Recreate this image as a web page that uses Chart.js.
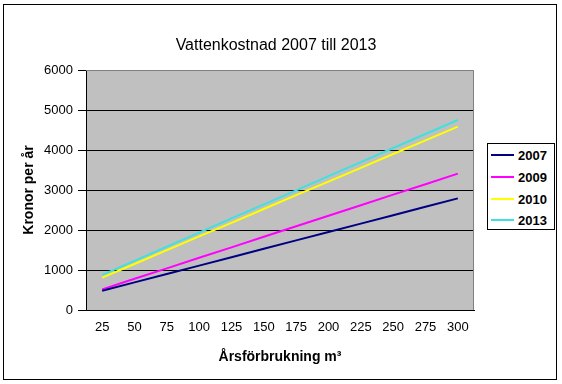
<!DOCTYPE html>
<html>
<head>
<meta charset="utf-8">
<script src="https://cdn.jsdelivr.net/npm/chart.js@4/dist/chart.umd.min.js"></script>
<style>
  html, body { margin: 0; padding: 0; background: #fff; }
  #wrap { position: relative; width: 562px; height: 384px; }
  canvas { position: absolute; left: 0; top: 0; }
  #legend {
    position: absolute; left: 487px; top: 143px; width: 68px; height: 87px;
    border: 1px solid #000; box-sizing: border-box; background: #fff;
    font-family: "Liberation Sans", Arial, sans-serif; font-weight: bold; font-size: 13px;
  }
  .item { position: absolute; left: 2px; height: 15px; line-height: 15px; }
  .sw { position: absolute; left: 1px; top: 6px; width: 23px; height: 2px; }
  .lt { position: absolute; left: 28px; top: 0; color: #000; }
</style>
</head>
<body>
<div id="wrap">
  <canvas id="c" width="562" height="384"></canvas>
  <div id="legend"></div>
</div>
<script>
const categories = ["25","50","75","100","125","150","175","200","225","250","275","300"];
const seriesNames = ["2007","2009","2010","2013"];
const values2007 = [480, 690, 900, 1110, 1320, 1530, 1740, 1950, 2160, 2370, 2580, 2790];
const values2009 = [515, 780, 1040, 1305, 1565, 1830, 2095, 2355, 2620, 2885, 3145, 3410];
const values2010 = [810, 1150, 1495, 1840, 2180, 2525, 2870, 3210, 3555, 3900, 4240, 4585];
const values2013 = [880, 1230, 1585, 1935, 2290, 2640, 2990, 3345, 3695, 4050, 4400, 4750];
const yTicks = [0, 1000, 2000, 3000, 4000, 5000, 6000];
const colors = ["#000080", "#FF00FF", "#FFFF00", "#40E0E0"];

const FONT = '"Liberation Sans", Arial, sans-serif';

const bgPlugin = {
  id: 'bg',
  beforeDraw(chart) {
    const ctx = chart.ctx;
    const a = chart.chartArea;
    ctx.save();
    ctx.fillStyle = '#fff';
    ctx.fillRect(0, 0, chart.width, chart.height);
    ctx.strokeStyle = '#000';
    ctx.lineWidth = 1;
    ctx.strokeRect(3.5, 4.5, 553, 375);
    ctx.fillStyle = '#C0C0C0';
    ctx.fillRect(a.left, a.top, a.right - a.left, a.bottom - a.top);
    ctx.restore();
  },
  afterDatasetsDraw(chart) {
    const ctx = chart.ctx;
    const a = chart.chartArea;
    ctx.save();
    ctx.strokeStyle = '#808080';
    ctx.lineWidth = 1;
    ctx.beginPath();
    ctx.moveTo(a.left, Math.round(a.top) + 0.5);
    ctx.lineTo(Math.round(a.right) - 0.5, Math.round(a.top) + 0.5);
    ctx.lineTo(Math.round(a.right) - 0.5, a.bottom);
    ctx.stroke();
    ctx.restore();
  }
};

const allValues = [values2007, values2009, values2010, values2013];

new Chart(document.getElementById('c'), {
  type: 'line',
  data: {
    labels: categories,
    datasets: seriesNames.map((n, i) => ({
      label: n,
      data: allValues[i],
      borderColor: colors[i],
      backgroundColor: colors[i],
      borderWidth: 2,
      pointRadius: 0,
      tension: 0,
      fill: false
    }))
  },
  options: {
    responsive: false,
    animation: false,
    devicePixelRatio: 1,
    layout: { padding: { left: 0, right: 10, top: 0, bottom: 0 } },
    plugins: {
      legend: { display: false },
      tooltip: { enabled: false },
      title: {
        display: true,
        text: 'Vattenkostnad 2007 till 2013',
        color: '#000',
        font: { family: FONT, size: 16, weight: 'normal' },
        padding: { top: 35.8, bottom: 15 }
      }
    },
    scales: {
      x: {
        offset: true,
        grid: { display: false, drawTicks: false },
        border: { display: true, color: '#000', width: 1 },
        ticks: { color: '#000', font: { family: FONT, size: 13 }, padding: 10, maxRotation: 0, autoSkip: false },
        title: {
          display: true,
          text: 'Årsförbrukning m³',
          color: '#000',
          font: { family: FONT, size: 14, weight: 'bold' },
          padding: { top: 0, bottom: 18.6 }
        },
        afterFit(s) { s.height = 74; }
      },
      y: {
        min: 0, max: 6000,
        afterBuildTicks(s) { s.ticks = yTicks.map(v => ({ value: v })); },
        grid: {
          color: (c) => (c.tick && c.tick.value === 6000) ? 'rgba(0,0,0,0)' : '#000',
          tickColor: '#000',
          tickLength: 8,
          lineWidth: 1
        },
        border: { display: true, color: '#000', width: 1 },
        ticks: { color: '#000', font: { family: FONT, size: 13 }, padding: 5, callback: (v) => String(v) },
        title: {
          display: true,
          text: 'Kronor per år',
          color: '#000',
          font: { family: FONT, size: 14, weight: 'bold' },
          padding: { top: 20.6, bottom: 0 }
        },
        afterFit(s) { s.width = 86; }
      },
      yRight: {
        position: 'right',
        display: true,
        grid: { display: false, drawTicks: false },
        border: { display: false },
        ticks: { display: false },
        afterFit(s) { s.width = 78; }
      }
    }
  },
  plugins: [bgPlugin]
});

const legend = document.getElementById('legend');
const tops = [4, 26, 48, 69];
seriesNames.forEach((n, i) => {
  const d = document.createElement('div');
  d.className = 'item';
  d.style.top = tops[i] + 'px';
  d.innerHTML = '<span class="sw" style="background:' + colors[i] + '"></span><span class="lt">' + n + '</span>';
  legend.appendChild(d);
});
</script>
</body>
</html>
